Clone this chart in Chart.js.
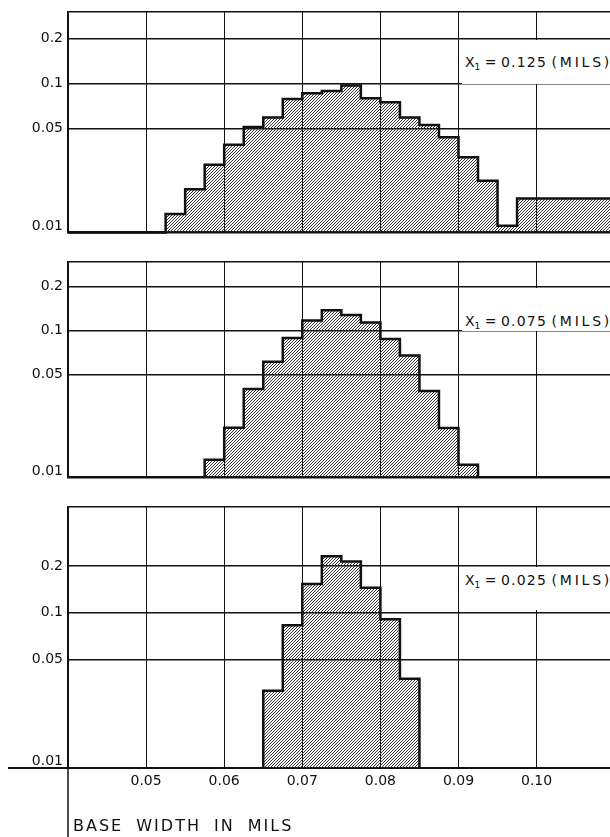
<!DOCTYPE html>
<html>
<head>
<meta charset="utf-8">
<script src="https://cdn.jsdelivr.net/npm/chart.js@4.4.1/dist/chart.umd.min.js"></script>
<style>
    body { margin: 0; background: #fff; }
    #page { position: relative; width: 610px; height: 837px; overflow: hidden; font-family: "DejaVu Sans", sans-serif; color: #111; }
    .panel { position: absolute; left: 0; width: 610px; }
    .tag { position: absolute; left: 462px; width: 148px; background: #fff; }
    .tag .t { position: absolute; left: 3px; font-size: 14px; line-height: 14px; white-space: nowrap; }
    .tag sub { font-size: 9px; vertical-align: -3px; line-height: 0; }
    .tag .n { letter-spacing: 1.2px; }
    .tag .u { letter-spacing: 2.8px; }
    #xtitle { position: absolute; left: 73px; top: 818px; font-size: 16px; line-height: 16px; letter-spacing: 2px; word-spacing: 6px; white-space: nowrap; }
</style>
</head>
<body>
<div id="page">
    <div class="panel" style="top:0px;height:250px"><canvas id="chart125"></canvas></div>
    <div class="panel" style="top:250px;height:245px"><canvas id="chart075"></canvas></div>
    <div class="panel" style="top:495px;height:342px"><canvas id="chart025"></canvas></div>

    <div class="tag" style="top:40px;height:44px"><span class="t" style="top:15px">X<sub>1</sub> = <span class="n">0.125</span> <span class="u">(MILS)</span></span></div>
    <div class="tag" style="top:288px;height:43px"><span class="t" style="top:26px">X<sub>1</sub> = <span class="n">0.075</span> <span class="u">(MILS)</span></span></div>
    <div class="tag" style="top:567px;height:43px"><span class="t" style="top:6px">X<sub>1</sub> = <span class="n">0.025</span> <span class="u">(MILS)</span></span></div>

    <div id="xtitle">BASE WIDTH IN MILS</div>
</div>
<script>
// axis ticks
const xTicks = [0.04, 0.05, 0.06, 0.07, 0.08, 0.09, 0.10];
const yTicks = [0.01, 0.05, 0.1, 0.2];

// X1 = 0.125 mils (left edge of each bin, value of the bin)
const edges125 = [0.04, 0.0525, 0.055, 0.0575, 0.06, 0.0625, 0.065, 0.0675, 0.07, 0.0725, 0.075,
    0.0775, 0.08, 0.0825, 0.085, 0.0875, 0.09, 0.0925, 0.095, 0.0975];
const freq125 = [0.01, 0.0133, 0.0195, 0.0285, 0.0388, 0.051, 0.059, 0.0786, 0.086, 0.089, 0.097,
    0.0794, 0.0748, 0.059, 0.0527, 0.0435, 0.0319, 0.0222, 0.0111, 0.0169];
const end125 = 0.115;

// X1 = 0.075 mils
const edges075 = [0.0575, 0.06, 0.0625, 0.065, 0.0675, 0.07, 0.0725, 0.075, 0.0775, 0.08,
    0.0825, 0.085, 0.0875, 0.09];
const freq075 = [0.0132, 0.0218, 0.040, 0.0614, 0.089, 0.1175, 0.138, 0.128, 0.1137, 0.0876,
    0.0676, 0.0388, 0.0217, 0.0122];
const end075 = 0.0925;

// X1 = 0.025 mils
const edges025 = [0.065, 0.0675, 0.07, 0.0725, 0.075, 0.0775, 0.08, 0.0825];
const freq025 = [0.0314, 0.083, 0.153, 0.231, 0.214, 0.145, 0.0907, 0.0376];
const end025 = 0.085;

const FONT = '"DejaVu Sans", sans-serif';
const INK = '#111';

// diagonal hatching used as the bar fill
function makeHatch() {
    const s = 3;
    const c = document.createElement('canvas');
    c.width = s; c.height = s;
    const g = c.getContext('2d');
    g.strokeStyle = '#333';
    g.lineWidth = 1;
    g.beginPath();
    g.moveTo(0, s); g.lineTo(s, 0);
    g.moveTo(-1, 1); g.lineTo(1, -1);
    g.moveTo(s - 1, s + 1); g.lineTo(s + 1, s - 1);
    g.stroke();
    return g.createPattern(c, 'repeat');
}
const hatch = makeHatch();

// histogram outline: from baseline, across each bin, back to baseline
function steps(edges, freq, end) {
    const pts = edges.map((x, i) => ({ x: x, y: freq[i] }));
    pts.unshift({ x: edges[0], y: 0.01 });
    pts.push({ x: end, y: freq[freq.length - 1] });
    pts.push({ x: end, y: 0.01 });
    return pts;
}

function yScale(max) {
    return {
        type: 'logarithmic',
        min: 0.01,
        max: max,
        afterBuildTicks: function (scale) {
            scale.ticks = yTicks.concat([max]).map(v => ({ value: v }));
        },
        afterFit: function (scale) { scale.width = 68; },
        grid: { color: INK, lineWidth: 1.5, drawTicks: false },
        border: { color: INK, width: 1.5 },
        ticks: {
            padding: 5,
            color: INK,
            autoSkip: false,
            font: { family: FONT, size: 14, lineHeight: 0.9 },
            callback: function (value) {
                if (value === 0.01) return ['0.01', ''];
                if (value === max) return '';
                return String(value);
            }
        }
    };
}

function xScale(showLabels, height) {
    return {
        type: 'linear',
        min: 0.04,
        max: 0.1094,
        afterBuildTicks: function (scale) {
            scale.ticks = xTicks.map(v => ({ value: v }));
        },
        afterFit: function (scale) { scale.height = height; },
        grid: { color: INK, lineWidth: 1, drawTicks: false },
        border: { color: INK, width: 2 },
        ticks: {
            display: showLabels,
            padding: 5,
            color: INK,
            autoSkip: false,
            maxRotation: 0,
            font: { family: FONT, size: 14 },
            callback: function (value) {
                return value === 0.04 ? '' : value.toFixed(2);
            }
        }
    };
}

// the bottom panel's axis line runs past the frame, as in the original figure
const axisExtension = {
    id: 'axisExtension',
    afterDraw: function (chart) {
        const ctx = chart.ctx;
        const area = chart.chartArea;
        ctx.save();
        ctx.strokeStyle = INK;
        ctx.lineWidth = 2;
        ctx.beginPath();
        ctx.moveTo(8, area.bottom);
        ctx.lineTo(area.left, area.bottom);
        ctx.stroke();
        ctx.lineWidth = 1.5;
        ctx.beginPath();
        ctx.moveTo(area.left, area.bottom);
        ctx.lineTo(area.left, chart.height);
        ctx.stroke();
        ctx.restore();
    }
};

function initPanel(id, edges, freq, end, yMax, showX, xHeight, plugins) {
    const ctx = document.getElementById(id).getContext('2d');
    new Chart(ctx, {
        type: 'line',
        data: {
            datasets: [{
                data: steps(edges, freq, end),
                stepped: true,
                fill: 'start',
                backgroundColor: hatch,
                borderColor: INK,
                borderWidth: 2.5,
                pointRadius: 0,
                clip: false
            }]
        },
        options: {
            responsive: true,
            maintainAspectRatio: false,
            animation: false,
            devicePixelRatio: 1,
            layout: { padding: { top: 10, left: 0, right: 0, bottom: 0 } },
            plugins: {
                legend: { display: false },
                tooltip: { enabled: false }
            },
            scales: {
                x: xScale(showX, xHeight),
                y: yScale(yMax)
            }
        },
        plugins: plugins || []
    });
}

initPanel('chart125', edges125, freq125, end125, 0.305, false, 13);
initPanel('chart075', edges075, freq075, end075, 0.297, false, 13);
initPanel('chart025', edges025, freq025, end025, 0.485, true, 69, [axisExtension]);
</script>
</body>
</html>
